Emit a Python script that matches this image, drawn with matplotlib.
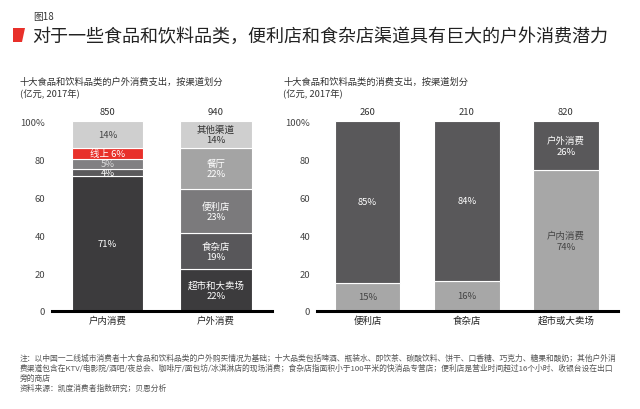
import matplotlib
matplotlib.use("Agg")
import matplotlib.pyplot as plt
from matplotlib.patches import Polygon

plt.rcParams['font.family'] = ['Noto Sans CJK SC', 'DejaVu Sans']

# ---- data ----
left_cats = ['户内消费', '户外消费']
left_totals = [850, 940]
indoor_values = [71, 4, 5, 6, 14]
indoor_labels = ['71%', '4%', '5%', '线上 6%', '14%']
indoor_colors = ['#3c3b3d', '#5a595b', '#818082', '#e8302a', '#cfcfcf']
indoor_text = ['white', 'white', '#dddddd', 'white', '#444444']

outdoor_channels = ['超市和大卖场', '食杂店', '便利店', '餐厅', '其他渠道']
outdoor_values = [22, 19, 23, 22, 14]
outdoor_colors = ['#3c3b3d', '#58575a', '#7b7a7c', '#a4a4a4', '#cfcfcf']
outdoor_text = ['white', 'white', 'white', 'white', '#333333']

right_cats = ['便利店', '食杂店', '超市或大卖场']
right_totals = [260, 210, 820]
indoor_share = [15, 16, 74]
outdoor_share = [85, 84, 26]
indoor_share_labels = ['15%', '16%', '户内消费\n74%']
outdoor_share_labels = ['85%', '84%', '户外消费\n26%']

yticks = [0, 20, 40, 60, 80, 100]
ytick_labels = ['0', '20', '40', '60', '80', '100%']

W, H = 640, 410
fig = plt.figure(figsize=(6.4, 4.1), dpi=100)
fig.patch.set_facecolor('white')

def px(x, y):
    return x / W, 1 - y / H

def style_axes(ax):
    for s in ['top', 'right', 'left']:
        ax.spines[s].set_visible(False)
    ax.spines['bottom'].set_linewidth(2.2)
    ax.spines['bottom'].set_color('black')
    ax.set_ylim(0, 100)
    ax.set_yticks(yticks)
    ax.set_yticklabels(ytick_labels)
    ax.tick_params(axis='y', length=0, pad=5, labelsize=6.8, labelcolor='#444444')
    ax.tick_params(axis='x', length=0, pad=3, labelsize=6.8, labelcolor='#222222')

fs = 6.8
# ---- left chart ----
axL = fig.add_axes([52 / W, (H - 312) / H, 220 / W, 190 / H])
style_axes(axL)
bw = 0.655
bottom = 0
for v, lab, c, tc in zip(indoor_values, indoor_labels, indoor_colors, indoor_text):
    axL.bar(0, v, bw, bottom=bottom, color=c, edgecolor='white', linewidth=0.8)
    axL.text(0, bottom + v / 2, lab, ha='center', va='center', color=tc, fontsize=fs)
    bottom += v
bottom = 0
for v, name, c, tc in zip(outdoor_values, outdoor_channels, outdoor_colors, outdoor_text):
    axL.bar(1, v, bw, bottom=bottom, color=c, edgecolor='white', linewidth=0.8)
    axL.text(1, bottom + v / 2, f'{name}\n{v}%', ha='center', va='center', color=tc,
             fontsize=fs, linespacing=1.25)
    bottom += v
for i, t in enumerate(left_totals):
    axL.text(i, 102.5, str(t), ha='center', va='bottom', fontsize=fs, color='#333333')
axL.set_xlim(-0.511, 1.516)
axL.set_xticks(range(len(left_cats)))
axL.set_xticklabels(left_cats)

# ---- right chart ----
axR = fig.add_axes([317 / W, (H - 312) / H, 301 / W, 190 / H])
style_axes(axR)
bw2 = 0.66
x = list(range(len(right_cats)))
axR.bar(x, indoor_share, bw2, color='#a7a7a7', edgecolor='white', linewidth=0.8)
axR.bar(x, outdoor_share, bw2, bottom=indoor_share, color='#59585a', edgecolor='white', linewidth=0.8)
for i in x:
    axR.text(i, indoor_share[i] / 2, indoor_share_labels[i], ha='center', va='center',
             color='#444444', fontsize=fs, linespacing=1.25)
    axR.text(i, indoor_share[i] + outdoor_share[i] / 2, outdoor_share_labels[i], ha='center',
             va='center', color='white', fontsize=fs, linespacing=1.25)
    axR.text(i, 102.5, str(right_totals[i]), ha='center', va='bottom', fontsize=fs, color='#333333')
axR.set_xlim(-0.509, 2.524)
axR.set_xticks(x)
axR.set_xticklabels(right_cats)

# ---- titles ----
mark = Polygon([px(13, 29), px(25, 29), px(22, 43), px(13, 43)], closed=True,
               transform=fig.transFigure, facecolor='#e8302a', edgecolor='none')
fig.patches.append(mark)
fig.text(*px(33, 17), '图18', fontsize=7, color='#333333', va='center', ha='left')
fig.text(*px(32, 37), '对于一些食品和饮料品类，便利店和食杂店渠道具有巨大的户外消费潜力',
         fontsize=13, color='#222222', va='center', ha='left')

fig.text(*px(20, 82), '十大食品和饮料品类的户外消费支出，按渠道划分', fontsize=6.7,
         color='#333333', va='center', ha='left')
fig.text(*px(20, 94), '(亿元, 2017年)', fontsize=6.7, color='#333333', va='center', ha='left')
fig.text(*px(283, 82), '十大食品和饮料品类的消费支出，按渠道划分', fontsize=6.7,
         color='#333333', va='center', ha='left')
fig.text(*px(283, 94), '(亿元, 2017年)', fontsize=6.7, color='#333333', va='center', ha='left')

notes = [
    '注：以中国一二线城市消费者十大食品和饮料品类的户外购买情况为基础；十大品类包括啤酒、瓶装水、即饮茶、碳酸饮料、饼干、口香糖、巧克力、糖果和酸奶；其他户外消',
    '费渠道包含在KTV/电影院/酒吧/夜总会、咖啡厅/面包坊/冰淇淋店的现场消费；食杂店指面积小于100平米的快消品专营店；便利店是营业时间超过16个小时、收银台设在出口',
    '旁的商店',
    '资料来源：凯度消费者指数研究；贝恩分析',
]
for k, line in enumerate(notes):
    fig.text(*px(20, 359 + 10 * k), line, fontsize=5.6, color='#555555', va='center', ha='left')

fig.savefig('out.png', dpi=100, facecolor='white')
